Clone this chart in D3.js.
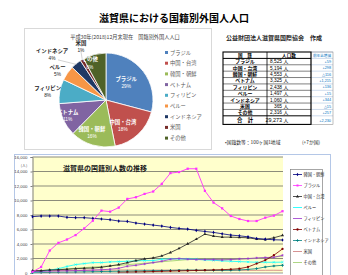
<!DOCTYPE html>
<html>
<head>
<meta charset="utf-8">
<script src="https://cdn.jsdelivr.net/npm/d3@7"></script>
<style>
  body { margin: 0; background: #fff; }
  svg { display: block; font-family: "Noto Sans CJK JP", "Noto Sans", sans-serif; }
</style>
</head>
<body>
<div id="chart"></div>
<script>
// ---- data ----
var countries = ["ブラジル", "中国・台湾", "韓国・朝鮮", "ベトナム", "フィリピン", "ペルー", "インドネシア", "米国", "その他"];
var population = [8525, 5194, 4553, 3325, 2438, 1497, 1060, 365, 2316];
var yoyChange = ["+59", "+298", "△116", "+1,215", "+136", "+15", "+344", "△15", "+257", "+2,230"];

var years = d3.range(1989, 2019);
var lineNames = ["韓国・朝鮮", "ブラジル", "中国・台湾", "ペルー", "フィリピン", "ベトナム", "インドネシア", "米国", "その他"];
var korea = [7770, 7860, 7860, 7860, 7680, 7630, 7630, 7540, 7450, 7350, 7170, 7120, 6890, 6750, 6610, 6470, 6290, 6150, 6060, 5870, 5730, 5600, 5410, 5230, 5130, 4990, 4760, 4670, 4580, 4553];
var brazil = [150, 830, 3100, 4160, 4620, 5230, 6150, 7210, 8600, 8460, 9020, 10220, 10450, 10910, 11240, 12300, 13780, 13920, 14380, 14380, 11330, 9710, 8920, 7860, 7450, 7170, 7170, 7630, 7910, 8525];
var china = [300, 320, 420, 460, 510, 600, 650, 690, 790, 970, 1160, 1430, 1710, 1940, 2080, 2360, 2820, 3380, 4020, 4670, 5360, 5090, 4950, 4950, 4900, 4860, 4670, 4620, 4860, 5194];
var peru = [100, 200, 400, 600, 900, 1160, 1300, 1430, 1430, 1530, 1570, 1620, 1670, 1710, 1710, 1900, 1940, 1940, 1940, 1900, 1800, 1760, 1670, 1620, 1570, 1530, 1480, 1480, 1480, 1497];
var philippines = [200, 220, 250, 280, 300, 330, 360, 400, 450, 520, 650, 930, 1060, 1250, 1430, 1620, 1900, 1990, 1900, 1850, 1850, 1850, 1800, 1850, 1940, 1990, 2080, 2130, 2170, 2438];
var vietnam = [null, null, null, null, null, null, null, null, null, null, 100, 120, 140, 170, 200, 230, 260, 290, 320, 350, 380, 416, 460, 510, 600, 830, 1300, 1760, 2450, 3325];
var indonesia = [50, 60, 80, 100, 120, 140, 160, 180, 200, 220, 240, 260, 280, 300, 320, 340, 360, 380, 400, 400, 380, 370, 360, 380, 420, 500, 600, 830, 970, 1060];
var usa = [320, 330, 340, 350, 360, 370, 380, 390, 400, 400, 410, 410, 410, 400, 400, 400, 390, 390, 390, 380, 380, 380, 380, 380, 380, 370, 370, 375, 380, 365];
var others = [300, 350, 420, 500, 580, 660, 740, 820, 900, 980, 1060, 1150, 1250, 1350, 1450, 1550, 1650, 1750, 1850, 1900, 1900, 1880, 1870, 1880, 1900, 1950, 2000, 2100, 2200, 2316];
var yTicks = [0, 2000, 4000, 6000, 8000, 10000, 12000, 14000, 16000];

// ---- styles ----
var pieColors = ["#4F81BD", "#C0504D", "#9BBB59", "#8064A2", "#4BACC6", "#F79646", "#1F3864", "#772C2A", "#4F6228"];
// label radius and angular nudge (degrees) per slice
var pieLabelR = [27, 30, 35, 41, 59, 57, 71, 60, 41];
var pieLabelShift = [-4, 9, 7, 4, -2, -3, -10, 6, -9];
var pieInside = [true, true, true, true, false, false, false, false, true];
var lineColors = ["#000080", "#FF33FF", "#222222", "#00FFFF", "#9933CC", "#800000", "#008080", "#CC7777", "#99CC66"];
var lineMarks = ["diamond", "square", "triangle", "cross", "star", "circle", "plus", "none", "none"];

var W = 348, H = 275;
var svg = d3.select("#chart").append("svg").attr("width", W).attr("height", H);
svg.append("rect").attr("width", W).attr("height", H).attr("fill", "#fff");

// Main title
svg.append("text")
  .attr("x", 174).attr("y", 22)
  .attr("text-anchor", "middle")
  .attr("font-size", 10).attr("font-weight", "bold")
  .text("滋賀県における国籍別外国人人口");

// ---- pie panel ----
svg.append("rect")
  .attr("x", 24.5).attr("y", 28.5).attr("width", 187).attr("height", 121)
  .attr("fill", "#fff").attr("stroke", "#D9D9D9");

svg.append("text")
  .attr("x", 125).attr("y", 39)
  .attr("text-anchor", "middle").attr("font-size", 5.2).attr("fill", "#404040")
  .text("平成30年(2018)12月末現在　国籍別外国人人口");

var cx = 106, cy = 100, R = 47;
var pie = d3.pie().sort(null).value((d) => d);
var arcs = pie(population);
var arc = d3.arc().innerRadius(0).outerRadius(R);
var total = d3.sum(population);

var pg = svg.append("g").attr("transform", "translate(" + cx + "," + cy + ")");
pg.selectAll("path")
  .data(arcs)
  .enter()
  .append("path")
  .attr("d", arc)
  .attr("fill", (d, i) => pieColors[i])
  .attr("stroke", "#fff")
  .attr("stroke-width", 0.8);

function labelPos(d, i) {
  var a = (d.startAngle + d.endAngle) / 2 + (pieLabelShift[i] * Math.PI) / 180;
  return [Math.sin(a) * pieLabelR[i], -Math.cos(a) * pieLabelR[i]];
}

// leader lines for the small outside slices
pg.selectAll("line.lead")
  .data(arcs.filter((d, i) => i === 6 || i === 7))
  .enter()
  .append("line")
  .attr("class", "lead")
  .attr("x1", (d) => { var a = (d.startAngle + d.endAngle) / 2; return Math.sin(a) * (R - 1); })
  .attr("y1", (d) => { var a = (d.startAngle + d.endAngle) / 2; return -Math.cos(a) * (R - 1); })
  .attr("x2", (d) => labelPos(d, d.index)[0] + (d.index === 6 ? 6 : 0))
  .attr("y2", (d) => labelPos(d, d.index)[1] + 6)
  .attr("stroke", "#A6A6A6").attr("stroke-width", 0.5);

var lab = pg.selectAll("g.lab")
  .data(arcs)
  .enter()
  .append("g")
  .attr("class", "lab")
  .attr("transform", (d, i) => "translate(" + labelPos(d, i) + ")");
lab.append("text")
  .attr("text-anchor", "middle").attr("y", -1)
  .attr("font-size", 5.4).attr("font-weight", "bold")
  .attr("fill", (d, i) => (pieInside[i] ? "#fff" : "#262626"))
  .text((d, i) => countries[i]);
lab.append("text")
  .attr("text-anchor", "middle").attr("y", 6.2)
  .attr("font-size", 4.8)
  .attr("font-family", "Liberation Sans, sans-serif")
  .attr("fill", (d, i) => (pieInside[i] ? "#fff" : "#262626"))
  .text((d) => Math.round((d.value / total) * 100) + "%");

// pie legend
var lg = svg.append("g");
var lgItem = lg.selectAll("g")
  .data(countries)
  .enter()
  .append("g")
  .attr("transform", (d, i) => "translate(165," + (52.5 + i * 10.7) + ")");
lgItem.append("rect")
  .attr("x", 0).attr("y", -1.5).attr("width", 3).attr("height", 3)
  .attr("fill", (d, i) => pieColors[i]);
lgItem.append("text")
  .attr("x", 5).attr("y", 2)
  .attr("font-size", 5.3).attr("fill", "#595959")
  .text((d) => d);

// ---- table ----
svg.append("text")
  .attr("x", 226).attr("y", 40)
  .attr("font-size", 6).attr("font-weight", "bold").attr("fill", "#262626")
  .text("公益財団法人滋賀県国際協会　作成");

var tx = [223, 267, 311, 333];
var headY = 52, headH = 6.4, rowH = 6.38;
var rowsTop = headY + headH;
var totalTop = rowsTop + rowH * countries.length;
var totalBot = totalTop + 8.6;

var tg = svg.append("g");
// column 3 thin cells
var c3Lines = [headY].concat(d3.range(countries.length).map((i) => rowsTop + i * rowH)).concat([totalTop]);
tg.selectAll("line.c3")
  .data(c3Lines)
  .enter()
  .append("line")
  .attr("x1", tx[2]).attr("x2", tx[3])
  .attr("y1", (d) => d).attr("y2", (d) => d)
  .attr("stroke", "#9DB7D9").attr("stroke-width", 0.5);
tg.append("rect")
  .attr("x", tx[2]).attr("y", headY).attr("width", tx[3] - tx[2]).attr("height", totalBot - headY)
  .attr("fill", "none").attr("stroke", "#7F7F7F").attr("stroke-width", 0.5);
// data row lines
tg.selectAll("line.row")
  .data(d3.range(1, countries.length))
  .enter()
  .append("line")
  .attr("x1", tx[0]).attr("x2", tx[2])
  .attr("y1", (i) => rowsTop + i * rowH).attr("y2", (i) => rowsTop + i * rowH)
  .attr("stroke", "#000").attr("stroke-width", 0.5);
tg.selectAll("line.thick")
  .data([rowsTop, totalTop])
  .enter()
  .append("line")
  .attr("x1", tx[0]).attr("x2", tx[2])
  .attr("y1", (d) => d).attr("y2", (d) => d)
  .attr("stroke", "#000").attr("stroke-width", 1);
tg.append("line")
  .attr("x1", tx[1]).attr("x2", tx[1]).attr("y1", headY).attr("y2", totalBot)
  .attr("stroke", "#000").attr("stroke-width", 0.8);
tg.append("rect")
  .attr("x", tx[0]).attr("y", headY).attr("width", tx[2] - tx[0]).attr("height", totalBot - headY)
  .attr("fill", "none").attr("stroke", "#000").attr("stroke-width", 1.1);

// header text
tg.append("text").attr("x", (tx[0] + tx[1]) / 2).attr("y", headY + 4.8)
  .attr("text-anchor", "middle").attr("font-size", 4.6).attr("font-weight", "bold").text("国　籍");
tg.append("text").attr("x", (tx[1] + tx[2]) / 2).attr("y", headY + 4.8)
  .attr("text-anchor", "middle").attr("font-size", 4.6).attr("font-weight", "bold").text("人口数");
tg.append("text").attr("x", (tx[2] + tx[3]) / 2).attr("y", headY + 4.5)
  .attr("text-anchor", "middle").attr("font-size", 3.6).attr("fill", "#0070C0").text("前年比増減");

var fmt = d3.format(",");
var rowData = countries.map((c, i) => ({ name: c, value: population[i], change: yoyChange[i] }));
rowData.push({ name: "合　計", value: total, change: yoyChange[countries.length] });

var rowY = (i) => (i < countries.length ? rowsTop + i * rowH + 4.9 : totalTop + 6.2);
tg.selectAll("text.name")
  .data(rowData)
  .enter()
  .append("text")
  .attr("x", (tx[0] + tx[1]) / 2).attr("y", (d, i) => rowY(i))
  .attr("text-anchor", "middle").attr("font-size", (d, i) => (i < countries.length ? 4.9 : 5.4)).attr("font-weight", "bold")
  .text((d) => d.name);
tg.selectAll("text.val")
  .data(rowData)
  .enter()
  .append("text")
  .attr("x", 282).attr("y", (d, i) => rowY(i))
  .attr("text-anchor", "end").attr("font-size", (d, i) => (i < countries.length ? 4.8 : 5.4))
  .attr("font-family", "Liberation Sans, sans-serif")
  .text((d) => fmt(d.value));
tg.selectAll("text.unit")
  .data(rowData)
  .enter()
  .append("text")
  .attr("x", 283.5).attr("y", (d, i) => rowY(i))
  .attr("font-size", 4.8)
  .text("人");
tg.selectAll("text.chg")
  .data(rowData)
  .enter()
  .append("text")
  .attr("x", tx[3] - 2).attr("y", (d, i) => rowY(i) - 0.4)
  .attr("text-anchor", "end").attr("font-size", 3.8).attr("fill", "#0070C0")
  .attr("font-family", "Liberation Sans, sans-serif")
  .text((d) => d.change);

svg.append("text")
  .attr("x", 225).attr("y", 143.5)
  .attr("font-size", 4.8).attr("fill", "#262626")
  .text("•国籍数等：100ヶ国1地域");
svg.append("text")
  .attr("x", 302).attr("y", 143.5)
  .attr("font-size", 4.8).attr("fill", "#262626")
  .text("(+7か国)");

// ---- line chart ----
svg.append("rect")
  .attr("x", 14.5).attr("y", 154.5).attr("width", 316).attr("height", 130)
  .attr("fill", "#fff").attr("stroke", "#B4C7E7");

var x = d3.scalePoint().domain(years).range([32.5, 282.5]);
var y = d3.scaleLinear().domain([0, 16000]).range([273, 157]);

svg.append("rect")
  .attr("x", 32.5).attr("y", y(16000)).attr("width", 250.5).attr("height", y(0) - y(16000))
  .attr("fill", "#FFFFCC");

svg.selectAll("line.grid")
  .data(yTicks.filter((d) => d > 0))
  .enter()
  .append("line")
  .attr("x1", 32.5).attr("x2", 283)
  .attr("y1", (d) => y(d)).attr("y2", (d) => y(d))
  .attr("stroke", "#8C8C7A").attr("stroke-width", 1.1);

var yAxis = svg.append("g")
  .attr("transform", "translate(32.5,0)")
  .call(d3.axisLeft(y).tickValues(yTicks).tickSize(2).tickFormat(d3.format(",")));
yAxis.select(".domain").attr("stroke", "#808080");
yAxis.selectAll(".tick line").attr("stroke", "#808080");
yAxis.selectAll("text").attr("font-size", 4.3).attr("fill", "#404040").attr("font-family", "Liberation Sans, sans-serif");
svg.append("text").attr("x", 24).attr("y", 166.5).attr("text-anchor", "middle")
  .attr("font-size", 3.8).attr("fill", "#404040").text("(人)");

svg.append("text")
  .attr("x", 63).attr("y", 171)
  .attr("font-size", 7).attr("font-weight", "bold").attr("fill", "#1a1a1a")
  .text("滋賀県の国籍別人数の推移");

var seriesList = [korea, brazil, china, peru, philippines, vietnam, indonesia, usa, others];
var line = d3.line()
  .defined((d) => d != null)
  .x((d, i) => x(years[i]))
  .y((d) => y(d));

var symbolFor = {
  diamond: d3.symbolDiamond, square: d3.symbolSquare, triangle: d3.symbolTriangle,
  cross: d3.symbolX, star: d3.symbolAsterisk, circle: d3.symbolCircle, plus: d3.symbolCross
};

// draw back to front like Excel (later series on top)
var order = [8, 7, 6, 3, 4, 5, 2, 0, 1];
order.forEach(function (k) {
  var s = seriesList[k];
  svg.append("path")
    .attr("d", line(s))
    .attr("fill", "none")
    .attr("stroke", lineColors[k])
    .attr("stroke-width", k === 1 ? 0.9 : 0.8);
  if (lineMarks[k] !== "none") {
    var sym = d3.symbol().type(symbolFor[lineMarks[k]]).size(k === 1 ? 5 : 4);
    var outline = lineMarks[k] === "cross" || lineMarks[k] === "star";
    svg.selectAll(null)
      .data(s.map((v, i) => ({ v: v, i: i })).filter((d) => d.v != null))
      .enter()
      .append("path")
      .attr("transform", (d) => "translate(" + x(years[d.i]) + "," + y(d.v) + ")")
      .attr("d", sym)
      .attr("fill", outline ? "none" : lineColors[k])
      .attr("stroke", outline ? lineColors[k] : "none")
      .attr("stroke-width", 0.6);
  }
});

svg.append("line").attr("x1", 32.5).attr("x2", 283).attr("y1", y(0)).attr("y2", y(0))
  .attr("stroke", "#808080").attr("stroke-width", 0.8);

// line legend
var lleg = svg.append("g");
lleg.append("rect")
  .attr("x", 290.5).attr("y", 169.5).attr("width", 32).attr("height", 110)
  .attr("fill", "#fff").attr("stroke", "#808080").attr("stroke-width", 0.7);
var li = lleg.selectAll("g.li")
  .data(lineNames)
  .enter()
  .append("g")
  .attr("transform", (d, i) => "translate(293," + (174.5 + i * 11) + ")");
li.append("line")
  .attr("x1", 0).attr("x2", 9).attr("y1", 0).attr("y2", 0)
  .attr("stroke", (d, i) => lineColors[i]).attr("stroke-width", 0.8);
li.filter((d, i) => lineMarks[i] !== "none")
  .append("path")
  .attr("transform", "translate(4.5,0)")
  .attr("d", (d) => d3.symbol().type(symbolFor[lineMarks[lineNames.indexOf(d)]]).size(4)())
  .attr("fill", (d) => lineColors[lineNames.indexOf(d)]);
li.append("text")
  .attr("x", 10.5).attr("y", 1.6)
  .attr("font-size", 4.2).attr("fill", "#262626")
  .text((d) => d);
</script>
</body>
</html>
